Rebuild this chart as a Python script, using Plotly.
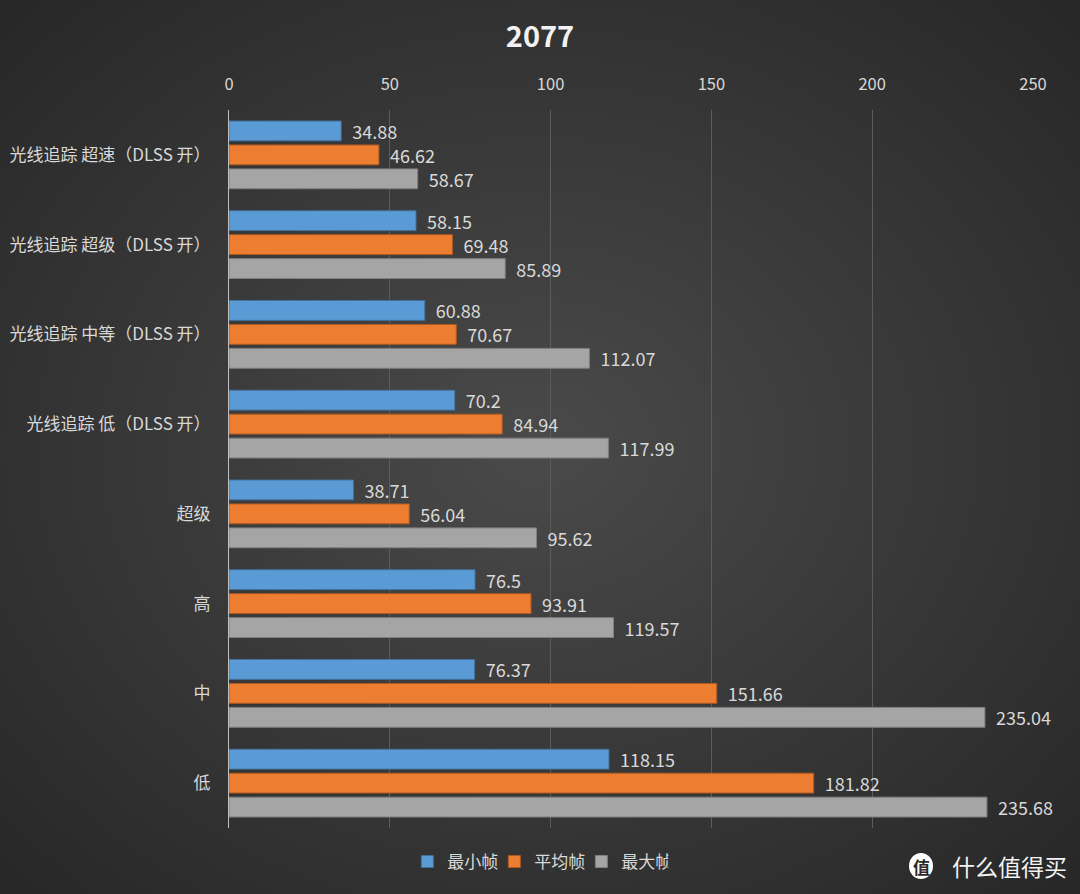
import base64
import plotly.graph_objects as go

categories = ["光线追踪 超速（DLSS 开）", "光线追踪 超级（DLSS 开）", "光线追踪 中等（DLSS 开）",
              "光线追踪 低（DLSS 开）", "超级", "高", "中", "低"]
min_fps = [34.88, 58.15, 60.88, 70.2, 38.71, 76.5, 76.37, 118.15]
avg_fps = [46.62, 69.48, 70.67, 84.94, 56.04, 93.91, 151.66, 181.82]
max_fps = [58.67, 85.89, 112.07, 117.99, 95.62, 119.57, 235.04, 235.68]
series_names = ["最小帧", "平均帧", "最大帧"]
x_ticks = [0, 50, 100, 150, 200, 250]

W, H = 1080, 894
L, R, T, B = 229, 47, 110, 66
pw, ph = W - L - R, H - T - B

FONT = "Noto Sans CJK SC, Noto Sans, sans-serif"
colors = ["#5b9bd5", "#ed7d31", "#a5a5a5"]
edges = ["#41719c", "#ae5a21", "#7f7f7f"]

fig = go.Figure()
for name, vals, c, e in zip(series_names, [min_fps, avg_fps, max_fps], colors, edges):
    fig.add_trace(go.Bar(
        y=categories, x=vals, name=name, orientation="h",
        marker=dict(color=c, line=dict(color=e, width=1)),
        text=[str(v) for v in vals], texttemplate="  %{text}",
        textposition="outside", cliponaxis=False, constraintext="none",
        outsidetextfont=dict(color="#d9d9d9", size=18, family=FONT),
    ))

svg = (f'<svg xmlns="http://www.w3.org/2000/svg" width="{W}" height="{H}">'
       '<defs><radialGradient id="g" cx="50%" cy="50%" r="72%">'
       '<stop offset="0%" stop-color="#4a4a4a"/><stop offset="100%" stop-color="#262626"/>'
       '</radialGradient></defs>'
       f'<rect width="{W}" height="{H}" fill="url(#g)"/></svg>')
src = "data:image/svg+xml;base64," + base64.b64encode(svg.encode()).decode()

wy = -(866 - (H - B)) / ph

fig.update_layout(
    width=W, height=H,
    margin=dict(l=L, r=R, t=T, b=B, autoexpand=False),
    paper_bgcolor="#2a2a2a", plot_bgcolor="rgba(0,0,0,0)",
    barmode="group", bargap=0.2, bargroupgap=0.17,
    font=dict(family=FONT, color="#d9d9d9"),
    title=dict(text="<b>2077</b>", x=0.5, xanchor="center", y=1 - 37 / H, yanchor="middle",
               font=dict(size=29, color="#f2f2f2", family=FONT)),
    images=[dict(source=src, xref="paper", yref="paper", x=-L / pw, y=1 + T / ph,
                 sizex=W / pw, sizey=H / ph, sizing="stretch", xanchor="left", yanchor="top",
                 layer="below")],
    xaxis=dict(side="top", range=[0, 250], tickvals=x_ticks, showgrid=True, automargin=False,
               gridcolor="#5c5c5c", gridwidth=1, zeroline=False,
               ticks="outside", ticklen=12, tickcolor="rgba(0,0,0,0)",
               tickfont=dict(size=16.5, color="#d9d9d9", family=FONT)),
    yaxis=dict(autorange="reversed", showline=True, linecolor="#bfbfbf", linewidth=1,
               automargin=False,
               ticks="outside", ticklen=14, tickcolor="rgba(0,0,0,0)",
               tickfont=dict(size=17, color="#d9d9d9", family=FONT)),
    legend=dict(orientation="h", xref="container", yref="container", x=0.498, xanchor="center",
                y=1 - 862 / H, yanchor="middle", font=dict(size=17, color="#d9d9d9", family=FONT),
                itemwidth=30, entrywidth=42, entrywidthmode="pixels", bgcolor="rgba(0,0,0,0)"),
    shapes=[dict(type="circle", xref="paper", yref="paper",
                 x0=(909 - L) / pw, x1=(933 - L) / pw,
                 y0=wy - 13 / ph, y1=wy + 13 / ph,
                 fillcolor="#ffffff", line=dict(width=0))],
    annotations=[
        dict(text="<b>值</b>", xref="paper", yref="paper", x=(921 - L) / pw, y=wy,
             showarrow=False, font=dict(size=17, color="#2a2a2a", family=FONT),
             xanchor="center", yanchor="middle"),
        dict(text="什么值得买", xref="paper", yref="paper", x=(950 - L) / pw, y=wy,
             showarrow=False, font=dict(size=23, color="#f2f2f2", family=FONT),
             xanchor="left", yanchor="middle"),
    ],
)

fig.write_html("out.html", config={"displayModeBar": False},
               post_script="document.body.style.margin='0';")
